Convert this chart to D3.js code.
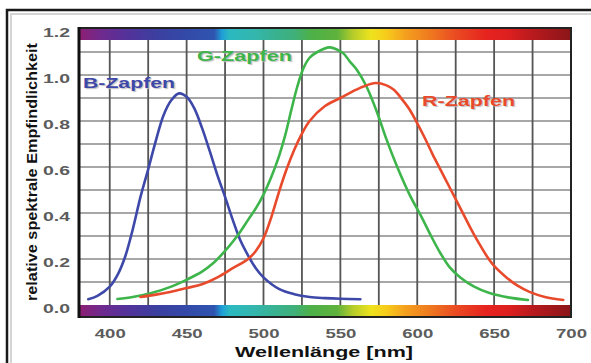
<!DOCTYPE html>
<html>
<head>
    <meta charset="utf-8">
    <script src="https://d3js.org/d3.v7.min.js"></script>
    <style>
        body { margin: 0; background: #fff; }
        text { font-family: "Liberation Sans", Arial, sans-serif; font-weight: bold; }
    </style>
</head>
<body>
    <svg id="chart"></svg>

    <script>
        // Cone sensitivity curves: [wavelength nm, relative value]
        const bCone = [[386,0.025],[392,0.04],[400,0.08],[405,0.13],[410,0.21],[415,0.33],[420,0.47],
            [425,0.59],[430,0.715],[435,0.825],[440,0.89],[445,0.92],[450,0.905],[455,0.855],[460,0.77],
            [465,0.67],[470,0.565],[475,0.47],[480,0.37],[485,0.28],[490,0.215],[495,0.16],[500,0.12],
            [510,0.07],[520,0.047],[530,0.035],[540,0.03],[550,0.027],[563,0.025]];
        const gCone = [[405,0.026],[415,0.035],[426,0.05],[440,0.08],[450,0.11],[460,0.145],[467,0.18],
            [475,0.235],[480,0.275],[485,0.32],[490,0.37],[495,0.42],[500,0.48],[505,0.555],[510,0.645],
            [514,0.735],[518,0.845],[522,0.95],[526,1.03],[530,1.075],[535,1.1],[543,1.12],[548,1.11],
            [552,1.094],[556,1.06],[561,1.02],[567,0.95],[574,0.835],[580,0.72],[587,0.6],[595,0.48],
            [603,0.38],[609,0.3],[615,0.226],[621,0.165],[628,0.12],[637,0.08],[647,0.052],[660,0.032],[672,0.022]];
        const rCone = [[420,0.035],[430,0.045],[440,0.058],[450,0.074],[460,0.09],[470,0.12],[480,0.16],
            [490,0.2],[495,0.235],[500,0.29],[505,0.38],[510,0.49],[515,0.59],[520,0.675],[525,0.745],[530,0.8],
            [540,0.865],[550,0.9],[560,0.935],[565,0.95],[573,0.965],[580,0.955],[585,0.935],[590,0.895],
            [595,0.85],[600,0.79],[605,0.725],[610,0.655],[615,0.59],[620,0.525],[625,0.46],[630,0.395],
            [635,0.33],[640,0.27],[645,0.215],[650,0.17],[658,0.12],[665,0.085],[673,0.057],[683,0.035],[695,0.022]];

        const xTicks = [400, 450, 500, 550, 600, 650, 700];
        const yTicks = [0, 0.2, 0.4, 0.6, 0.8, 1.0, 1.2];
        const xGrid = d3.range(400, 700, 25);
        const yGrid = d3.range(1, 12).map(d => d / 10);

        // spectrum colours along the bars
        const spectrum = [[380,"#8e1f73"],[395,"#6e2a8e"],[410,"#55319a"],[430,"#3c3f9f"],[450,"#3349a8"],
            [468,"#2f55b0"],[473,"#1e9fd8"],[478,"#2bb9c0"],[495,"#34b6ac"],[505,"#37b295"],[520,"#3fb07a"],
            [530,"#4cb04a"],[548,"#5fb23c"],[558,"#b5cc2a"],[570,"#eee31e"],[580,"#f7cb1b"],[592,"#f4a11e"],
            [608,"#ef7a1f"],[625,"#ea4b22"],[645,"#e6231f"],[660,"#dc1f1f"],[675,"#b81a1e"],[700,"#8a1518"]];

        const curves = [
            { name: "B-Zapfen", data: bCone, color: "#3d48a9", label: [83, 88, 92] },
            { name: "G-Zapfen", data: gCone, color: "#3db54b", label: [197, 61, 95] },
            { name: "R-Zapfen", data: rCone, color: "#e84a2c", label: [422, 106, 93] }
        ];

        const width = 591, height = 363;
        const barH = 12;

        const svg = d3.select("#chart")
            .attr("width", width)
            .attr("height", height);

        const x = d3.scaleLinear().domain([380, 700]).range([79, 571]);
        const y = d3.scaleLinear().domain([0, 1.2]).range([305, 29]);

        // outer frame
        svg.append("path").attr("d", "M11,363V14H591").attr("fill", "none")
            .attr("stroke", "#d4d4d4").attr("stroke-width", 2);
        svg.append("path").attr("d", "M7,363V10H591").attr("fill", "none")
            .attr("stroke", "#1a1a1a").attr("stroke-width", 2.5);

        // gradient for the spectrum bars
        const grad = svg.append("defs").append("linearGradient")
            .attr("id", "spec")
            .attr("gradientUnits", "userSpaceOnUse")
            .attr("x1", x(380)).attr("x2", x(700)).attr("y1", 0).attr("y2", 0);
        grad.selectAll("stop")
            .data(spectrum)
            .enter()
            .append("stop")
            .attr("offset", d => (d[0] - 380) / 320)
            .attr("stop-color", d => d[1]);

        // grid
        svg.append("g").selectAll("line")
            .data(yGrid)
            .enter()
            .append("line")
            .attr("x1", x(380)).attr("x2", x(700))
            .attr("y1", d => y(d)).attr("y2", d => y(d))
            .attr("stroke", "#8a8a8a").attr("stroke-width", 1.6);
        svg.append("g").selectAll("line")
            .data(xGrid)
            .enter()
            .append("line")
            .attr("x1", d => x(d)).attr("x2", d => x(d))
            .attr("y1", y(1.2)).attr("y2", y(0) + barH)
            .attr("stroke", "#555").attr("stroke-width", 1.8);

        // spectrum bars, top and bottom
        svg.append("rect").attr("x", x(380)).attr("y", y(1.2)).attr("width", x(700) - x(380))
            .attr("height", barH - 1).attr("fill", "url(#spec)");
        svg.append("rect").attr("x", x(380)).attr("y", y(0)).attr("width", x(700) - x(380))
            .attr("height", barH).attr("fill", "url(#spec)");

        // plot frame
        svg.append("rect").attr("x", x(380)).attr("y", y(1.2) - 1)
            .attr("width", x(700) - x(380)).attr("height", y(0) + barH - y(1.2) + 1)
            .attr("fill", "none").attr("stroke", "#222").attr("stroke-width", 2);
        svg.append("line").attr("x1", x(380)).attr("x2", x(380))
            .attr("y1", y(1.2) - 2).attr("y2", y(0) + barH + 1)
            .attr("stroke", "#111").attr("stroke-width", 3);

        // curves
        const line = d3.line()
            .x(d => x(d[0]))
            .y(d => y(d[1]))
            .curve(d3.curveCatmullRom);

        svg.append("g").selectAll("path")
            .data(curves)
            .enter()
            .append("path")
            .attr("d", d => line(d.data))
            .attr("fill", "none")
            .attr("stroke", d => d.color)
            .attr("stroke-width", 2.6)
            .attr("stroke-linecap", "round");

        // curve labels
        svg.append("g").selectAll("text")
            .data(curves)
            .enter()
            .append("text")
            .attr("x", d => d.label[0])
            .attr("y", d => d.label[1])
            .attr("textLength", d => d.label[2])
            .attr("lengthAdjust", "spacingAndGlyphs")
            .style("font-size", "15px")
            .style("fill", d => d.color)
            .style("text-shadow", "1px 1px 1px #bbb")
            .text(d => d.name);

        // axes
        const xAxis = svg.append("g")
            .attr("transform", `translate(0,${y(0) + barH})`)
            .call(d3.axisBottom(x).tickValues(xTicks).tickSize(0));
        xAxis.select(".domain").remove();
        xAxis.selectAll("text")
            .attr("y", 21).attr("dy", 0)
            .attr("textLength", 31)
            .attr("lengthAdjust", "spacingAndGlyphs")
            .style("font-size", "13px")
            .style("fill", "#5c5c5c");

        const yAxis = svg.append("g")
            .attr("transform", `translate(${x(380)},0)`)
            .call(d3.axisLeft(y).tickValues(yTicks).tickSize(0).tickPadding(9).tickFormat(d3.format(".1f")));
        yAxis.select(".domain").remove();
        yAxis.selectAll("text")
            .attr("dy", "0.55em")
            .attr("textLength", 27)
            .attr("lengthAdjust", "spacingAndGlyphs")
            .style("font-size", "13px")
            .style("fill", "#5c5c5c");

        // axis titles
        svg.append("text")
            .attr("transform", "translate(37,172) rotate(-90)")
            .attr("text-anchor", "middle")
            .attr("textLength", 258)
            .attr("lengthAdjust", "spacingAndGlyphs")
            .style("font-size", "14px")
            .style("fill", "#111")
            .text("relative spektrale Empfindlichkeit");

        svg.append("text")
            .attr("x", 324)
            .attr("y", 357)
            .attr("text-anchor", "middle")
            .attr("textLength", 178)
            .attr("lengthAdjust", "spacingAndGlyphs")
            .style("font-size", "15px")
            .style("fill", "#111")
            .text("Wellenlänge [nm]");
    </script>
</body>
</html>
